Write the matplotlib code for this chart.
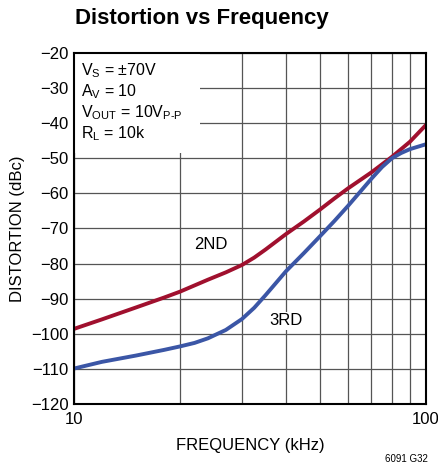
import matplotlib
matplotlib.use("Agg")
import matplotlib.pyplot as plt
from matplotlib.patches import Rectangle
from matplotlib.ticker import FixedLocator, NullFormatter

plt.rcParams['font.family'] = ['Liberation Sans', 'DejaVu Sans']
plt.rcParams['mathtext.fontset'] = 'custom'
plt.rcParams['mathtext.rm'] = 'Liberation Sans'

# data
freq2 = [10, 12, 15, 18, 20, 24, 27, 30, 32.5, 35, 40, 45, 50, 55, 60, 70, 80, 90, 100]
hd2 = [-98.6, -95.9, -92.5, -89.7, -88.0, -84.6, -82.5, -80.4, -78.3, -76.0, -71.6,
       -68.0, -64.6, -61.4, -58.6, -54.0, -49.6, -45.3, -40.5]
freq3 = [10, 12, 15, 18, 20, 22, 24, 27, 30, 32.5, 35, 40, 45, 50, 55, 60, 70, 75, 80, 85, 90, 100]
hd3 = [-109.9, -108.0, -106.2, -104.6, -103.6, -102.6, -101.3, -98.9, -95.8, -92.6, -89.0,
       -82.2, -77.0, -72.2, -67.8, -63.6, -55.8, -52.5, -50.0, -48.5, -47.4, -46.0]

yticks = list(range(-120, -19, 10))
xminor = [20, 30, 40, 50, 60, 70, 80, 90]

fig = plt.figure(figsize=(4.39, 4.73), dpi=100)
ax = fig.add_axes([0.1686, 0.1459, 0.8018, 0.7421])

ax.set_xscale('log')
ax.set_xlim(10, 100)
ax.set_ylim(-120, -20)

ax.xaxis.set_major_locator(FixedLocator([10, 100]))
ax.xaxis.set_minor_locator(FixedLocator(xminor))
ax.xaxis.set_minor_formatter(NullFormatter())
ax.set_xticklabels(['10', '100'])
ax.set_yticks(yticks)
ax.set_yticklabels(['\u2212%d' % -v for v in yticks])

ax.grid(True, which='both', color='#555555', linewidth=0.9, zorder=0)
ax.tick_params(which='both', length=0, labelsize=12, pad=4)
ax.tick_params(axis='x', pad=6)
for s in ax.spines.values():
    s.set_linewidth(1.5)
    s.set_zorder(5)

ax.plot(freq2, hd2, color='#a0102e', linewidth=2.8, zorder=3)
ax.plot(freq3, hd3, color='#3b56a6', linewidth=2.8, zorder=3)

# white area behind the conditions text
ax.add_patch(Rectangle((0, 0.715), 0.358, 0.285, transform=ax.transAxes,
                       facecolor='white', edgecolor='none', zorder=2))
ax.text(0.02, 0.975, '$\\mathregular{V_S}$ = \u00b170V\n$\\mathregular{A_V}$ = 10\n'
        '$\\mathregular{V_{OUT}}$ = 10$\\mathregular{V_{P\\text{-}P}}$\n$\\mathregular{R_L}$ = 10k',
        transform=ax.transAxes, fontsize=11.5, va='top', ha='left', linespacing=1.15, zorder=4)

box = dict(facecolor='white', edgecolor='none', pad=1)
ax.text(24.5, -74.6, '2ND', fontsize=12, ha='center', va='center', bbox=box, zorder=4)
ax.text(40.0, -96.3, '3RD', fontsize=12, ha='center', va='center', bbox=box, zorder=4)

ax.set_xlabel('FREQUENCY (kHz)', fontsize=12, labelpad=8)
ax.set_ylabel('DISTORTION (dBc)', fontsize=12, labelpad=4)

fig.text(0.171, 0.960, 'Distortion vs Frequency', fontsize=16, fontweight='bold',
         ha='left', va='center')
fig.text(0.975, 0.018, '6091 G32', fontsize=7, ha='right', va='bottom')

fig.savefig('out.png', dpi=100)
